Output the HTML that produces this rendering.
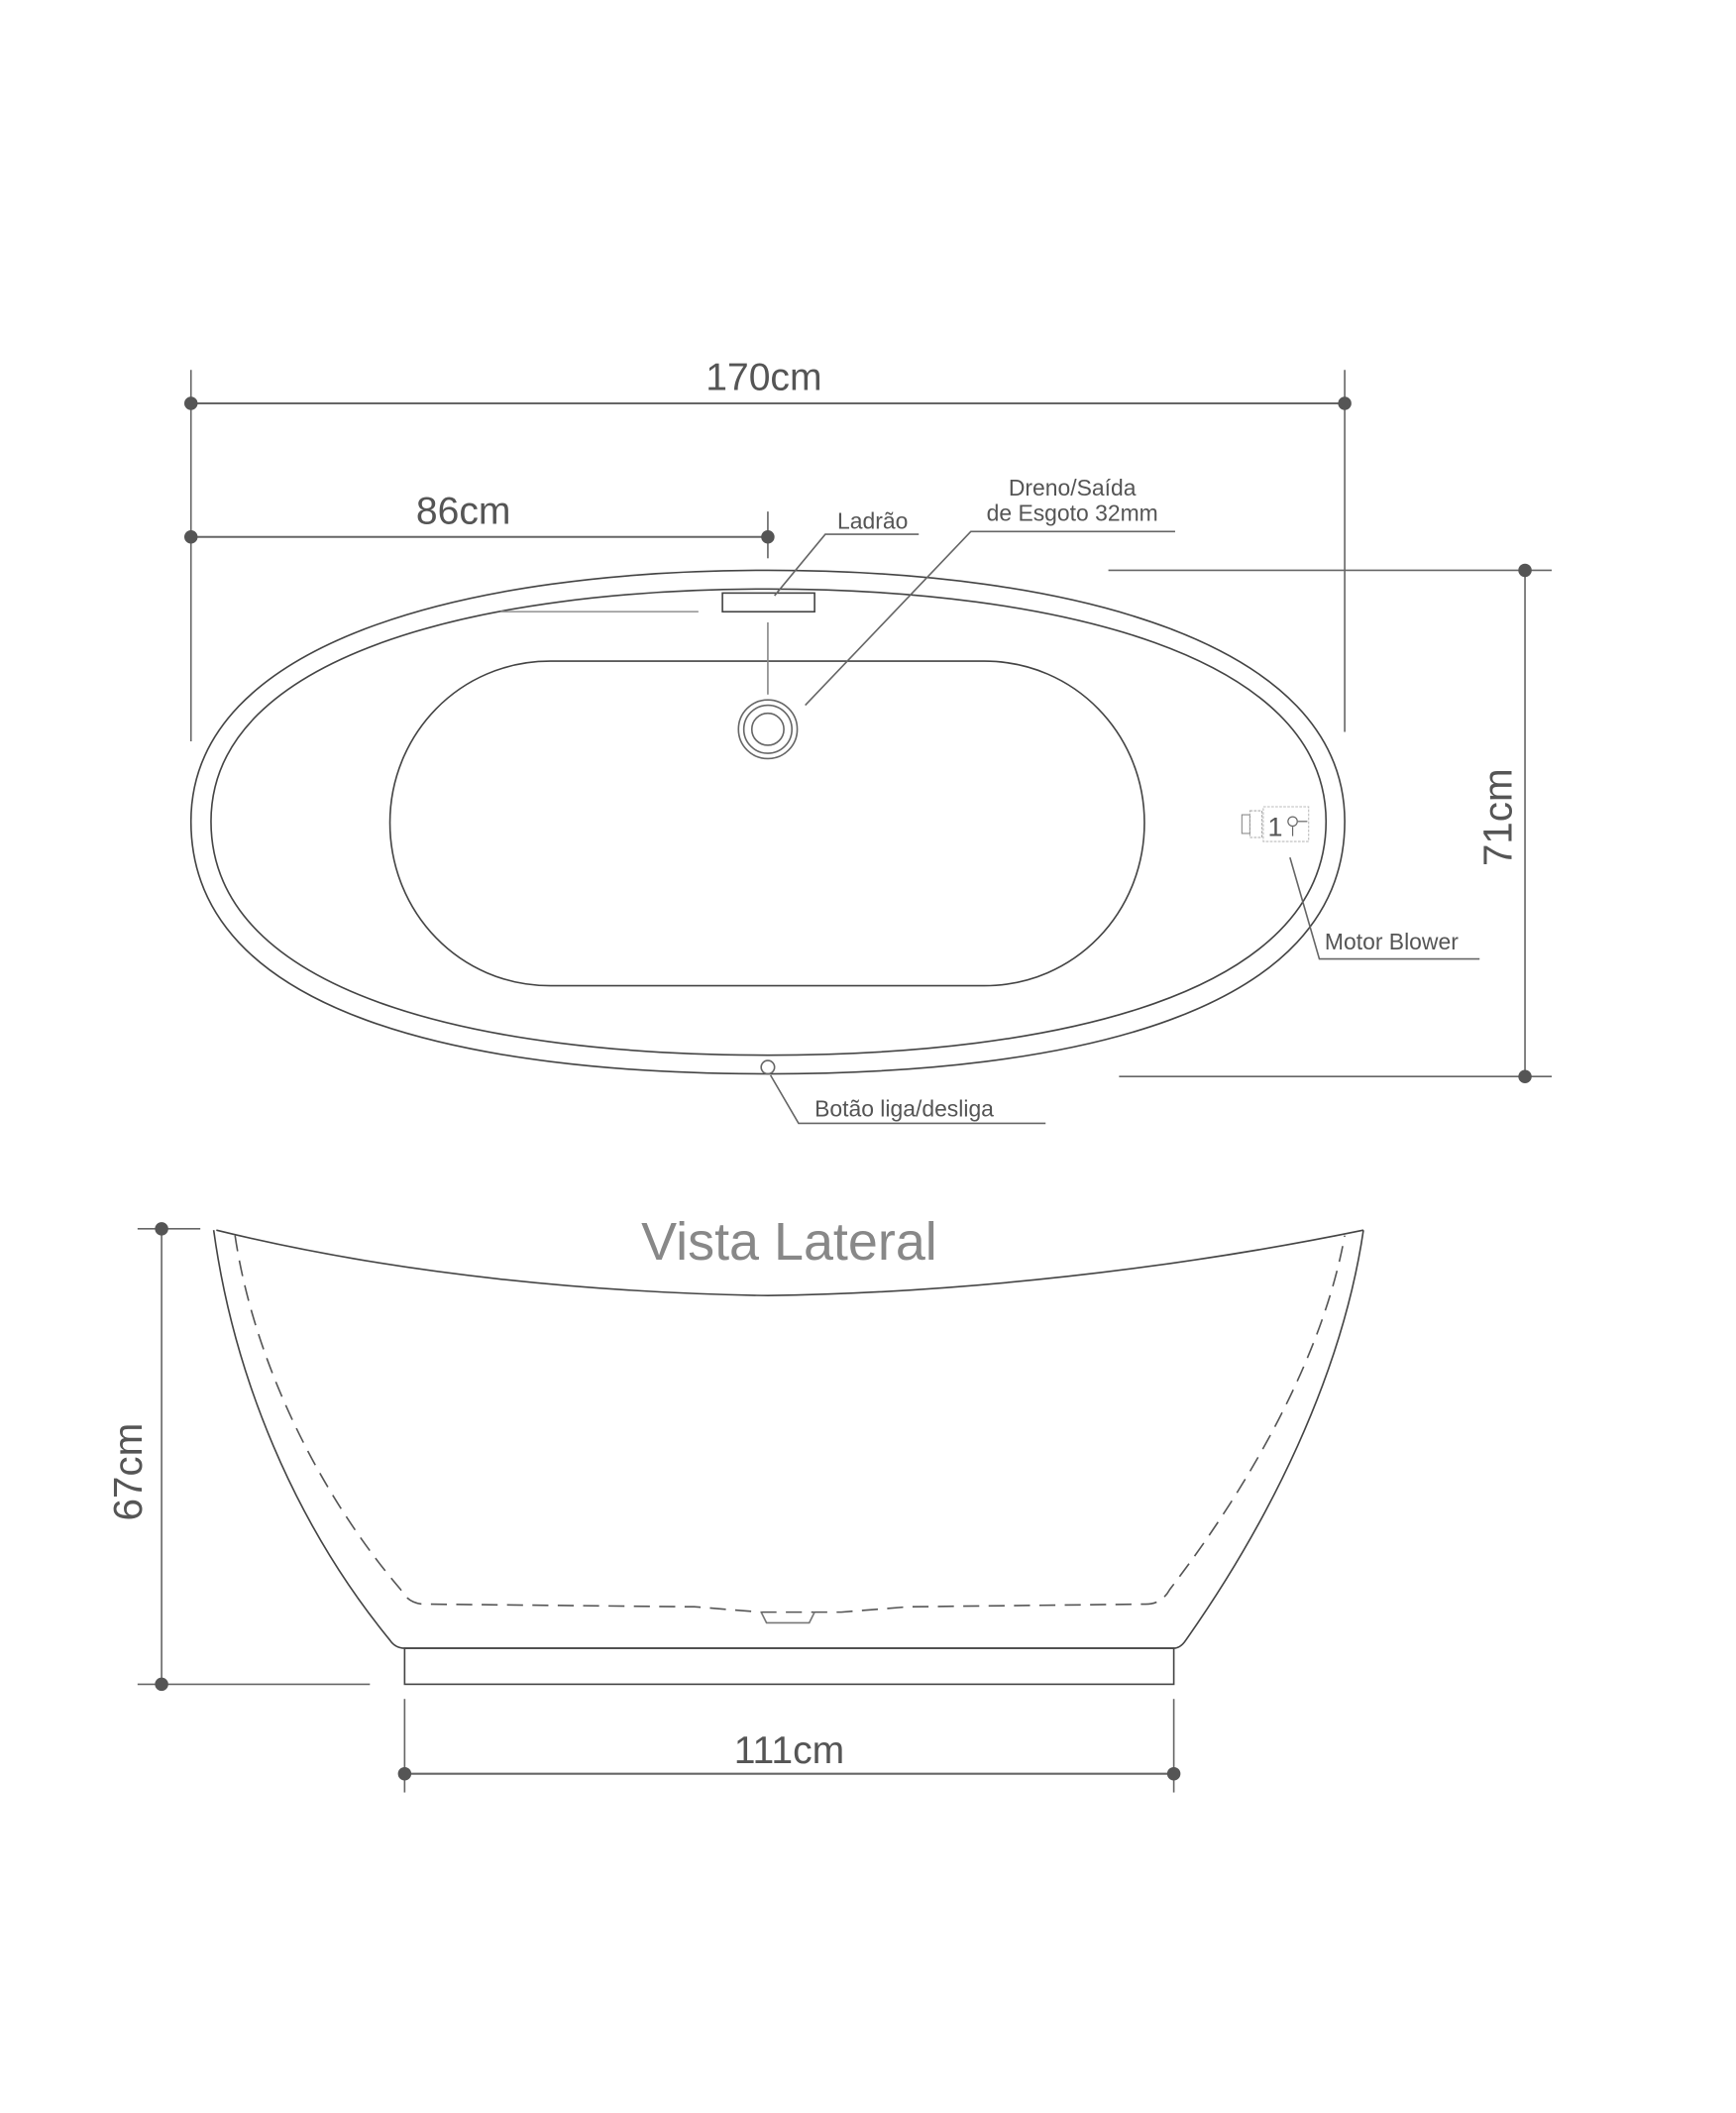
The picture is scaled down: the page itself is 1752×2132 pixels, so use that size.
<!DOCTYPE html>
<html><head><meta charset="utf-8"><style>
html,body{margin:0;padding:0;background:#fff;}
svg{display:block;}
text{font-family:"Liberation Sans",sans-serif;fill:#555;}
</style></head><body>
<svg width="1752" height="2132" viewBox="0 0 1300 1582" xmlns="http://www.w3.org/2000/svg">
<g stroke="#666" stroke-width="1.2" fill="none">
<!-- 170cm -->
<line x1="143" y1="277" x2="143" y2="555"/>
<line x1="1007" y1="277" x2="1007" y2="548"/>
<line x1="143" y1="302" x2="1007" y2="302" stroke-width="1.5"/>
<!-- 86cm -->
<line x1="143" y1="402" x2="575" y2="402" stroke-width="1.5"/>
<line x1="575" y1="383" x2="575" y2="418"/>
<!-- outer tub -->
<path d="M575,427 C800,427 1007,480 1007,615 C1007,760 800,804 575,804 C350,804 143,760 143,615 C143,480 350,427 575,427 Z" stroke="#444"/>
<path d="M575,441 C790,441 993,490 993,615 C993,745 790,790 575,790 C360,790 158,745 158,615 C158,490 360,441 575,441 Z" stroke="#444"/>
<!-- basin -->
<path d="M412,495 L737,495 C805,495 857,550 857,616 C857,683 805,738 737,738 L412,738 C344,738 292,683 292,616 C292,550 344,495 412,495 Z" stroke="#444"/>
<!-- ladrao -->
<rect x="541" y="444" width="69" height="14" stroke="#444"/>
<line x1="375" y1="458" x2="523" y2="458" stroke="#999"/>
<line x1="575" y1="466" x2="575" y2="520" stroke="#888"/>
<polyline points="580,446 618,400 688,400"/>
<!-- drain -->
<circle cx="575" cy="546" r="22"/>
<circle cx="575" cy="546" r="18"/>
<circle cx="575" cy="546" r="12"/>
<polyline points="603,528 727,398 880,398"/>
<!-- 71cm -->
<line x1="830" y1="427" x2="1162" y2="427"/>
<line x1="838" y1="806" x2="1162" y2="806"/>
<line x1="1142" y1="427" x2="1142" y2="806"/>
<!-- motor -->
<rect x="930" y="610" width="6" height="14" stroke="#888" stroke-width="0.8"/>
<rect x="936" y="607" width="9" height="20" stroke="#aaa" stroke-width="0.8" stroke-dasharray="2,1"/>
<rect x="946" y="604" width="34" height="26" stroke="#bbb" stroke-width="0.8" stroke-dasharray="2,1"/>
<circle cx="968" cy="615" r="3.5" stroke-width="0.9"/>
<line x1="968" y1="619" x2="968" y2="626" stroke-width="0.9"/>
<line x1="972" y1="615" x2="979" y2="615" stroke-width="0.9"/>
<polyline points="966,642 988,718 1108,718"/>
<!-- botao -->
<circle cx="575" cy="799" r="5"/>
<polyline points="577,805 598,841 783,841"/>
<!-- lateral -->
<path d="M162,921 C300,955 450,968 575,970 C720,968 880,950 1021,921" stroke="#444"/>
<path d="M160,921 C175,1030 220,1140 292,1228 Q296,1234 303,1234 L879,1234 Q884,1234 888,1228 C950,1140 1005,1030 1021,921" stroke="#444"/>
<rect x="303" y="1234" width="576" height="27" stroke="#444"/>
<path d="M176,925 C190,1020 240,1120 300,1190 Q306,1201 318,1201 L520,1203 L570,1207 L630,1207 L680,1203 L858,1201 Q870,1201 876,1190 C930,1120 990,1020 1007,925" stroke="#555" stroke-dasharray="12,7"/>
<path d="M570,1207 L574,1215 L606,1215 L610,1207" stroke="#777"/>
<!-- 67cm -->
<line x1="103" y1="920" x2="150" y2="920"/>
<line x1="103" y1="1261" x2="277" y2="1261"/>
<line x1="121" y1="920" x2="121" y2="1261"/>
<!-- 111cm -->
<line x1="303" y1="1272" x2="303" y2="1342"/>
<line x1="879" y1="1272" x2="879" y2="1342"/>
<line x1="303" y1="1328" x2="879" y2="1328" stroke-width="1.5"/>
</g>
<g fill="#555">
<circle cx="143" cy="302" r="5"/><circle cx="1007" cy="302" r="5"/>
<circle cx="143" cy="402" r="5"/><circle cx="575" cy="402" r="5"/>
<circle cx="1142" cy="427" r="5"/><circle cx="1142" cy="806" r="5"/>
<circle cx="121" cy="920" r="5"/><circle cx="121" cy="1261" r="5"/>
<circle cx="303" cy="1328" r="5"/><circle cx="879" cy="1328" r="5"/>
</g>
<text x="572" y="292" font-size="29" text-anchor="middle">170cm</text>
<text x="347" y="392" font-size="29" text-anchor="middle">86cm</text>
<text x="627" y="396" font-size="17">Ladrão</text>
<text x="803" y="371" font-size="17" text-anchor="middle">Dreno/Saída</text>
<text x="803" y="390" font-size="17" text-anchor="middle">de Esgoto 32mm</text>
<text x="1132" y="612" font-size="30" text-anchor="middle" transform="rotate(-90 1132 612)">71cm</text>
<text x="955" y="626" font-size="20" text-anchor="middle">1</text>
<text x="992" y="711" font-size="17">Motor Blower</text>
<text x="610" y="836" font-size="17">Botão liga/desliga</text>
<text x="591" y="943" font-size="40" text-anchor="middle" style="fill:#888">Vista Lateral</text>
<text x="106" y="1102" font-size="30" text-anchor="middle" transform="rotate(-90 106 1102)">67cm</text>
<text x="591" y="1320" font-size="29" text-anchor="middle">111cm</text>
</svg>
</body></html>
